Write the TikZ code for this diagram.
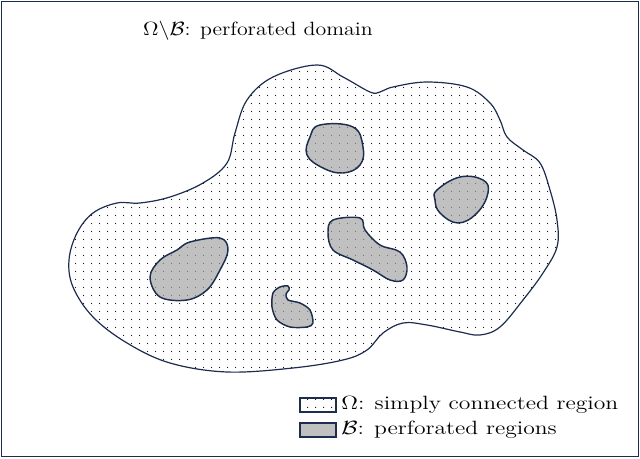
\documentclass[tikz,border=0pt]{standalone}
\usepackage{tikz}
\usetikzlibrary{patterns}
\definecolor{frameblue}{RGB}{28,45,78}
\definecolor{holegray}{RGB}{192,192,192}
\pgfdeclarepatternformonly{sparsedots}{\pgfpointorigin}{\pgfpoint{6pt}{6pt}}{\pgfpoint{6pt}{6pt}}{\pgfpathcircle{\pgfpoint{3pt}{3pt}}{0.5pt}\pgfusepath{fill}}
\tikzset{
  outerdomain/.style={draw=frameblue,line width=0.9pt,pattern=sparsedots,pattern color=black},
  hole/.style={draw=frameblue,line width=1.1pt,preaction={fill=holegray},pattern=sparsedots,pattern color=black!55},
  keybox/.style={draw=frameblue,line width=0.8pt,minimum width=27pt,minimum height=10.5pt,inner sep=0pt},
  keytext/.style={anchor=base west,font=\Large,xscale=1.23,inner sep=0pt}
}

\begin{document}
\begin{tikzpicture}[x=0.75pt,y=-0.75pt]
\useasboundingbox (0,0) rectangle (640,459);
\draw[frameblue,line width=1.3pt] (1.5,1.5) rectangle (638.5,456.5);
% title
\node[font=\Large,xscale=1.14,anchor=base] (title) at (258,36) {$\Omega\backslash\mathcal{B}$: perforated domain};
% outer domain
\draw[outerdomain] plot[smooth cycle,tension=0.6] coordinates {
(317,65) (273,77) (247,100) (235,133) (227,163) (203,183) (170,197) (140,203)
(117,203) (93,213) (77,233) (69,260) (73,287) (93,317) (127,343) (170,363)
(227,372) (293,368) (343,360) (367,350) (383,333) (403,323) (427,325) (460,332)
(480,335) (500,327) (523,300) (543,273) (557,247) (557,220) (550,190) (540,163)
(523,150) (507,137) (500,120) (490,103) (467,87) (427,82) (393,87) (380,92)
(370,92) (343,77)};
% holes
\draw[hole] plot[smooth cycle,tension=0.7] coordinates {
(320,125) (353,127) (363,147) (360,165) (343,173) (323,168) (307,155) (310,137)};
\draw[hole] plot[smooth cycle,tension=0.7] coordinates {
(437,190) (460,177) (483,180) (488,193) (477,213) (458,223) (440,213) (435,200)};
\draw[hole] plot[smooth cycle,tension=0.6] coordinates {
(333,220) (360,218) (365,230) (380,245) (400,252) (407,267) (403,280) (390,280)
(373,270) (353,260) (333,250) (328,233)};
\draw[hole] plot[smooth cycle,tension=0.6] coordinates {
(160,260) (177,250) (190,242) (220,238) (228,250) (220,270) (207,290) (187,300)
(160,297) (150,277)};
\draw[hole] plot[smooth cycle,tension=0.5] coordinates {
(273,293) (280,287) (288,286) (289,290) (286,294) (288,300) (300,303) (310,310)
(313,323) (307,327) (290,327) (277,320) (272,307)};
% legend
\node[keybox,pattern=sparsedots] (omegakey) at (318,405) {};
\node[keybox,fill=holegray] (holekey) at (318,430) {};
\node[keytext] (omegatext) at (341,410) {$\Omega$: simply connected region};
\node[keytext] (holetext) at (341,435) {$\mathcal{B}$: perforated regions};
\end{tikzpicture}
\end{document}
